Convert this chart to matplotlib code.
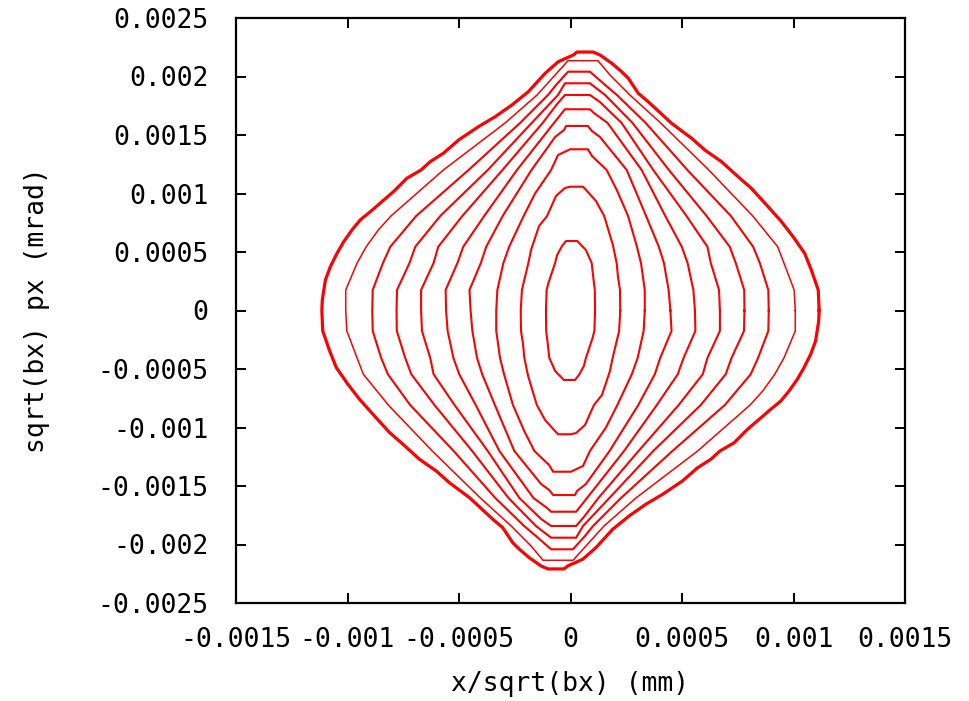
import matplotlib
matplotlib.use("Agg")
import matplotlib.pyplot as plt

# upper halves of the phase-space orbits (x/sqrt(bx), sqrt(bx) px), innermost first,
# running from the right px=0 crossing over the top to the left px=0 crossing.
# the map is symmetric under (x, px) -> (-x, -px), so the lower halves are mirrored.
orbit1_x = [0.000110, 0.000109, 0.000105, 0.000095, 0.000069, 0.000043, 0.000030, -0.000020, -0.000038, -0.000060, -0.000069, -0.000099, -0.000107, -0.000110]
orbit1_y = [0.0, 0.000175, 0.000235, 0.000406, 0.000517, 0.000568, 0.000594, 0.000594, 0.000551, 0.000474, 0.000406, 0.000235, 0.000175, 0.0]

orbit2_x = [0.000223, 0.000222, 0.000213, 0.000207, 0.000190, 0.000151, 0.000114, 0.000074, 0.000056, -0.000002, -0.000025, -0.000065, -0.000105, -0.000141, -0.000177, -0.000189, -0.000218, -0.000223]
orbit2_y = [0.0, 0.000175, 0.000286, 0.000406, 0.000560, 0.000808, 0.000936, 0.001021, 0.001058, 0.001058, 0.001047, 0.000979, 0.000808, 0.000722, 0.000517, 0.000406, 0.000175, 0.0]

orbit3_x = [0.000333, 0.000333, 0.000316, 0.000298, 0.000258, 0.000208, 0.000162, 0.000096, 0.000078, -0.000002, -0.000056, -0.000087, -0.000159, -0.000210, -0.000275, -0.000301, -0.000328, -0.000333]
orbit3_y = [0.0, 0.000175, 0.000406, 0.000545, 0.000808, 0.001028, 0.001201, 0.001321, 0.001378, 0.001378, 0.001329, 0.001201, 0.001000, 0.000808, 0.000545, 0.000406, 0.000175, 0.0]

orbit4_x = [0.000448, 0.000440, 0.000419, 0.000396, 0.000339, 0.000252, 0.000132, 0.000096, 0.000078, -0.000020, -0.000029, -0.000069, -0.000175, -0.000304, -0.000378, -0.000402, -0.000453, -0.000448]
orbit4_y = [0.0, 0.000175, 0.000406, 0.000545, 0.000808, 0.001201, 0.001483, 0.001534, 0.001577, 0.001577, 0.001543, 0.001483, 0.001201, 0.000808, 0.000545, 0.000406, 0.000175, 0.0]

orbit5_x = [0.000558, 0.000551, 0.000525, 0.000499, 0.000425, 0.000319, 0.000166, 0.000105, 0.000087, -0.000025, -0.000074, -0.000240, -0.000387, -0.000481, -0.000507, -0.000560, -0.000558]
orbit5_y = [0.0, 0.000175, 0.000406, 0.000545, 0.000808, 0.001201, 0.001603, 0.001688, 0.001720, 0.001720, 0.001603, 0.001201, 0.000808, 0.000545, 0.000406, 0.000175, 0.0]

orbit6_x = [0.000670, 0.000666, 0.000629, 0.000614, 0.000520, 0.000371, 0.000229, 0.000132, 0.000087, -0.000025, -0.000060, -0.000125, -0.000305, -0.000485, -0.000593, -0.000614, -0.000670, -0.000670]
orbit6_y = [0.0, 0.000175, 0.000406, 0.000545, 0.000808, 0.001201, 0.001603, 0.001782, 0.001842, 0.001842, 0.001765, 0.001603, 0.001201, 0.000808, 0.000545, 0.000406, 0.000175, 0.0]

orbit7_x = [0.000780, 0.000779, 0.000741, 0.000714, 0.000610, 0.000441, 0.000278, 0.000155, 0.000087, -0.000025, -0.000056, -0.000174, -0.000371, -0.000584, -0.000696, -0.000722, -0.000778, -0.000780]
orbit7_y = [0.0, 0.000175, 0.000406, 0.000545, 0.000808, 0.001201, 0.001603, 0.001842, 0.001942, 0.001942, 0.001842, 0.001603, 0.001201, 0.000808, 0.000545, 0.000406, 0.000175, 0.0]

orbit8_x = [0.000889, 0.000887, 0.000849, 0.000819, 0.000719, 0.000524, 0.000337, 0.000208, 0.000150, 0.000087, -0.000011, -0.000065, -0.000101, -0.000226, -0.000457, -0.000692, -0.000808, -0.000841, -0.000887, -0.000889]
orbit8_y = [0.0, 0.000175, 0.000406, 0.000545, 0.000808, 0.001201, 0.001603, 0.001842, 0.001936, 0.002041, 0.002041, 0.001927, 0.001842, 0.001603, 0.001201, 0.000808, 0.000545, 0.000406, 0.000175, 0.0]

orbit9_x = [0.001008, 0.001003, 0.000957, 0.000929, 0.000817, 0.000620, 0.000404, 0.000266, 0.000177, 0.000123, -0.000011, -0.000069, -0.000150, -0.000293, -0.000570, -0.000805, -0.000862, -0.000916, -0.000957, -0.001008, -0.001008]
orbit9_y = [0.0, 0.000175, 0.000406, 0.000545, 0.000808, 0.001201, 0.001603, 0.001842, 0.002013, 0.002135, 0.002135, 0.002013, 0.001842, 0.001603, 0.001201, 0.000808, 0.000688, 0.000545, 0.000406, 0.000175, 0.0]

orbit10_x = [0.001115, 0.001111, 0.001080, 0.001050, 0.000998, 0.000946, 0.000879, 0.000811, 0.000751, 0.000677,
             0.000602, 0.000543, 0.000453, 0.000348, 0.000304, 0.000259, 0.000229, 0.000185, 0.000132, 0.000101,
             0.000029, 0.000013, -0.000055, -0.000114, -0.000189, -0.000263, -0.000338, -0.000413, -0.000502, -0.000570,
             -0.000629, -0.000670, -0.000734, -0.000794, -0.000846, -0.000898, -0.000943, -0.000980, -0.001017, -0.001047,
             -0.001077, -0.001099, -0.001113, -0.001115]
orbit10_y = [0.0, 0.000175, 0.000346, 0.000489, 0.000631, 0.000759, 0.000902, 0.001044, 0.001144, 0.001272,
             0.001372, 0.001472, 0.001600, 0.001785, 0.001856, 0.001985, 0.002041, 0.002113, 0.002184, 0.002209,
             0.002209, 0.002184, 0.002126, 0.002027, 0.001870, 0.001756, 0.001656, 0.001571, 0.001457, 0.001344,
             0.001272, 0.001201, 0.001130, 0.001015, 0.000930, 0.000844, 0.000774, 0.000688, 0.000588, 0.000489,
             0.000374, 0.000261, 0.000090, 0.0]

orbits = [(orbit1_x, orbit1_y), (orbit2_x, orbit2_y), (orbit3_x, orbit3_y),
          (orbit4_x, orbit4_y), (orbit5_x, orbit5_y), (orbit6_x, orbit6_y),
          (orbit7_x, orbit7_y), (orbit8_x, orbit8_y), (orbit9_x, orbit9_y),
          (orbit10_x, orbit10_y)]
widths = [1.5, 1.5, 1.5, 1.5, 1.5, 1.5, 1.5, 1.5, 1.1, 2.3]

xticks = [-0.0015, -0.001, -0.0005, 0, 0.0005, 0.001, 0.0015]
xticklabels = ["-0.0015", "-0.001", "-0.0005", "0", "0.0005", "0.001", "0.0015"]
yticks = [-0.0025, -0.002, -0.0015, -0.001, -0.0005, 0, 0.0005, 0.001, 0.0015, 0.002, 0.0025]
yticklabels = ["-0.0025", "-0.002", "-0.0015", "-0.001", "-0.0005", "0",
               "0.0005", "0.001", "0.0015", "0.002", "0.0025"]

mono = "DejaVu Sans Mono"

fig = plt.figure(figsize=(9.69, 7.01), dpi=100)
ax = fig.add_axes([236 / 969, 98 / 701, 669 / 969, 585 / 701])

for (ox, oy), lw in zip(orbits, widths):
    # closed orbit: upper half followed by its point reflection
    xs = list(ox) + [-v for v in ox[1:]]
    ys = list(oy) + [-v for v in oy[1:]]
    ax.plot(xs, ys, color="#ff0000", lw=lw, solid_joinstyle="round")

ax.set_xlim(-0.0015, 0.0015)
ax.set_ylim(-0.0025, 0.0025)
ax.set_xticks(xticks)
ax.set_xticklabels(xticklabels, family=mono, fontsize=19)
ax.set_yticks(yticks)
ax.set_yticklabels(yticklabels, family=mono, fontsize=19)
ax.tick_params(direction="in", length=7, width=1.4, top=True, right=True)
ax.tick_params(axis="y", pad=20)
ax.tick_params(axis="x", pad=17)
for s in ax.spines.values():
    s.set_linewidth(1.6)

ax.set_xlabel("x/sqrt(bx) (mm)", family=mono, fontsize=19, labelpad=13)
ax.set_ylabel("sqrt(bx) px (mrad)", family=mono, fontsize=19, labelpad=34)

fig.savefig("out.png", dpi=100)
